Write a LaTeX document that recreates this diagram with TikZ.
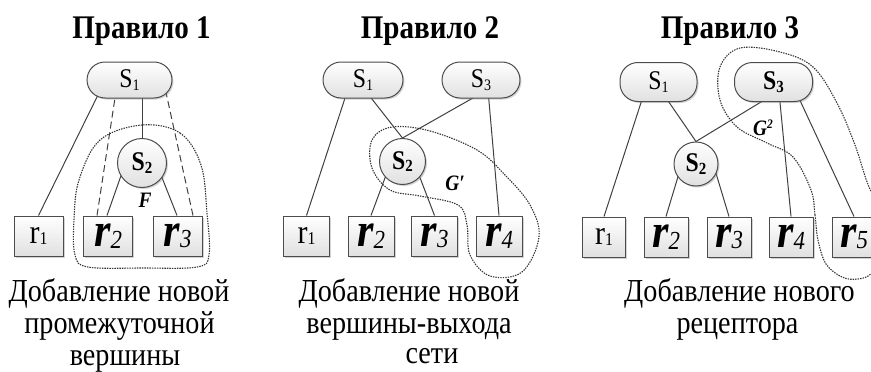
\documentclass[tikz,border=0pt]{standalone}
\usepackage{fontspec}
\setmainfont{Liberation Serif}[FakeStretch=0.88]
\usetikzlibrary{calc,backgrounds,shadows}
\newcommand\Sn[1]{{\fontsize{27}{27}\selectfont S\raisebox{-2.5pt}{\fontsize{16}{16}\selectfont #1}}}
\newcommand\Sb[1]{{\fontsize{27}{27}\selectfont\bfseries S\raisebox{-2.5pt}{\fontsize{17}{17}\selectfont #1}}}
\newcommand\rn[1]{{\fontsize{34}{34}\selectfont r\raisebox{-1pt}{\fontsize{18}{18}\selectfont #1}}}
\newcommand\rb[1]{{\fontsize{48}{48}\selectfont\bfseries\itshape r\raisebox{-1.5pt}{\fontsize{26}{26}\selectfont\mdseries #1}}}
\begin{document}
\begin{tikzpicture}[x=1pt,y=-1pt,
  ln/.style={draw=black!75, line width=1pt},
  dsh/.style={ln, dash pattern=on 7pt off 4pt},
  dotc/.style={draw=black!80, line width=1.1pt, dash pattern=on 1.4pt off 1.1pt},
  bx/.style={draw=black!70, line width=1pt, top color=white, bottom color=black!12,
    drop shadow={shadow xshift=1.5pt,shadow yshift=-1.5pt,opacity=0.35},
    minimum height=40pt, inner sep=0pt},
  sr/.style={bx, rounded corners=18pt, minimum height=36pt},
  sc/.style={bx, circle},
  lab/.style={font=\fontsize{22}{22}\selectfont\bfseries\itshape, inner sep=0pt},
  ttl/.style={font=\fontsize{33}{33}\selectfont\bfseries, anchor=base, inner sep=0pt},
  txt/.style={font=\fontsize{32}{32}\selectfont, anchor=base, inner sep=0pt}]
\useasboundingbox (0,0) rectangle (871,372);

% ---------- Panel 1
\node[ttl] (t1) at (141.5,38) {Правило 1};
\node[sr, minimum width=85pt] (p1s1) at (129.5,80) {\Sn{1}};
\node[sc, minimum size=49pt] (p1s2) at (142,163) {\Sb{2}};
\node[bx, minimum width=49pt] (p1r1) at (38.5,236) {\rn{1}};
\node[bx, minimum width=49pt] (p1r2) at (108,236) {\rb{2}};
\node[bx, minimum width=49pt] (p1r3) at (177.5,236) {\rb{3}};
\node[lab] (p1F) at (145,200) {F};
\begin{scope}[on background layer]
\draw[ln] (p1r1.north) -- ($(p1s1.center)+(-31,14)$);
\draw[ln] (p1s2.center) -- (p1s2.center |- p1s1.center);
\draw[dsh] ($(p1r2.north)+(-11,0)$) -- ($(p1s1.center)+(-12.5,5)$);
\draw[dsh] ($(p1r3.north)+(15.5,0)$) -- ($(p1s1.center)+(35.5,8)$);
\draw[ln] ($(p1r2.north)+(-1,0)$) -- ($(p1s2.center)+(-19,7)$);
\draw[ln] ($(p1r3.north)+(-0.5,0)$) -- ($(p1s2.center)+(17,7)$);
\end{scope}
\draw[dotc] plot[smooth cycle, tension=0.6] coordinates {(142,125) (180,133) (201,165) (207,213) (209,255) (197,267) (143,268) (88,267) (75,255) (74,220) (79,180) (100,140)};
\node[txt] (d1a) at (119,301) {Добавление новой};
\node[txt] (d1b) at (119.5,333) {промежуточной};
\node[txt] (d1c) at (125,365) {вершины};

% ---------- Panel 2
\node[ttl] (t2) at (430,38) {Правило 2};
\node[sr, minimum width=80pt] (p2s1) at (363,80) {\Sn{1}};
\node[sr, minimum width=78pt] (p2s3) at (481,80) {\Sn{3}};
\node[sc, minimum size=46pt] (p2s2) at (402.5,161.5) {\Sb{2}};
\node[bx, minimum width=46pt] (p2r1) at (306.5,236) {\rn{1}};
\node[bx, minimum width=46pt] (p2r2) at (371,236) {\rb{2}};
\node[bx, minimum width=46pt] (p2r3) at (434.5,236) {\rb{3}};
\node[bx, minimum width=46pt] (p2r4) at (499,236) {\rb{4}};
\node[lab] (p2G) at (455,183) {G′};
\begin{scope}[on background layer]
\draw[ln] (p2r1.north) -- ($(p2s1.center)+(-16,12)$);
\draw[ln] (p2s2.north) -- ($(p2s1.center)+(5,14)$);
\draw[ln] (p2s2.north) -- ($(p2s3.center)+(-1,14)$);
\draw[ln] (p2r4.north) -- ($(p2s3.center)+(7,10)$);
\draw[ln] (p2r2.north) -- ($(p2s2.center)+(-14,7)$);
\draw[ln] (p2r3.north) -- ($(p2s2.center)+(14,7)$);
\end{scope}
\draw[dotc] plot[smooth cycle, tension=0.6] coordinates {(392,127) (430,131) (477,150) (505,175) (530,205) (539,237) (522,272) (490,276) (470,255) (467,225) (458,205) (420,196) (390,190) (372,168) (372,140)};
\node[txt] (d2a) at (409,301) {Добавление новой};
\node[txt] (d2b) at (409,333) {вершины-выхода};
\node[txt] (d2c) at (432,363) {сети};

% ---------- Panel 3
\node[ttl] (t3) at (730,38) {Правило 3};
\node[sr, minimum width=77pt, minimum height=39pt] (p3s1) at (658.5,82) {\Sn{1}};
\node[sr, minimum width=78pt, minimum height=39pt] (p3s3) at (773.5,82) {\Sb{3}};
\node[sc, minimum size=44pt] (p3s2) at (696,164) {\Sb{2}};
\node[bx, minimum width=43pt] (p3r1) at (604,237) {\rn{1}};
\node[bx, minimum width=44pt] (p3r2) at (666,237) {\rb{2}};
\node[bx, minimum width=44pt] (p3r3) at (729,237) {\rb{3}};
\node[bx, minimum width=44pt] (p3r4) at (791,237) {\rb{4}};
\node[bx, minimum width=44pt] (p3r5) at (854,237) {\rb{5}};
\node[lab] (p3G) at (763,128) {G\raisebox{7pt}{\fontsize{13}{13}\selectfont 2}};
\begin{scope}[on background layer]
\draw[ln] (p3r1.north) -- ($(p3s1.center)+(-15,13)$);
\draw[ln] (p3s2.north) -- ($(p3s1.center)+(5.5,13)$);
\draw[ln] (p3s2.north) -- ($(p3s3.center)+(-1,13)$);
\draw[ln] (p3r4.north) -- ($(p3s3.center)+(5.5,10)$);
\draw[ln] (p3r5.north) -- ($(p3s3.center)+(23.5,12)$);
\draw[ln] (p3r2.north) -- ($(p3s2.center)+(-16,6)$);
\draw[ln] (p3r3.north) -- ($(p3s2.center)+(19,6)$);
\end{scope}
\draw[dotc] plot[smooth cycle, tension=0.6] coordinates {(811,190) (815,215) (818,240) (826,264) (842,277) (858,279) (872,273) (888,250) (885,215) (869,187) (855,145) (837,103) (813,67) (780,52) (740,48) (720,67) (720,100) (737,127) (767,143) (793,157)};
\node[txt] (d3a) at (739.5,301) {Добавление нового};
\node[txt] (d3b) at (737.5,333) {рецептора};
\end{tikzpicture}
\end{document}
